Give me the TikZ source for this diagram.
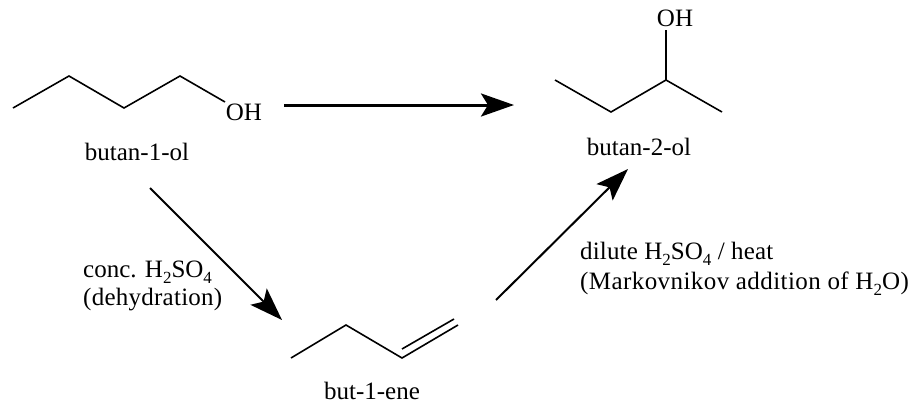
\documentclass[tikz,border=0pt]{standalone}
\usepackage{fontspec}
\setmainfont{Liberation Serif}
\usetikzlibrary{arrows.meta}
\newcommand{\lowsub}[1]{\raisebox{-6pt}{\fontsize{17}{20}\selectfont #1}}
\tikzset{
  x=1pt,y=-1pt,
  bond/.style={line width=1.6pt,line join=miter},
  rxn/.style={line width=2pt,-{Stealth[length=33pt,width=23pt,inset=7pt]}},
  rxnthick/.style={rxn,line width=3pt},
  lab/.style={inner sep=0pt,font=\fontsize{25}{30}\selectfont},
  cond/.style={inner sep=0pt,anchor=base west,font=\fontsize{25}{30}\selectfont}
}
\begin{document}
\begin{tikzpicture}
\useasboundingbox (0,0) rectangle (918,410);
% butan-1-ol
\coordinate (a1) at (13,108);
\coordinate (a2) at (69,76);
\coordinate (a3) at (124,108);
\coordinate (a4) at (180,76);
\coordinate (a5) at (225,102);
\draw[bond] (a1)--(a2)--(a3)--(a4)--(a5);
\node[lab] (oh1) at (244,112) {OH};
\node[lab] (t1) at (137,152) {butan-1-ol};
% butan-2-ol
\coordinate (b1) at (555,80);
\coordinate (b2) at (611,112);
\coordinate (b3) at (666,80);
\coordinate (b4) at (722,112);
\coordinate (b5) at (666,30);
\draw[bond] (b1)--(b2)--(b3)--(b4);
\draw[bond] (b3)--(b5);
\node[lab] (oh2) at (675,18) {OH};
\node[lab] (t2) at (639,147) {butan-2-ol};
% but-1-ene
\coordinate (c1) at (291,358);
\coordinate (c2) at (346,325);
\coordinate (c3) at (402,358);
\coordinate (c4) at (458,325);
\coordinate (c5) at (402,349);
\coordinate (c6) at (454,319);
\draw[bond] (c1)--(c2)--(c3)--(c4);
\draw[bond] (c5)--(c6);
\node[lab] (t3) at (372,391) {but-1-ene};
% arrows
\coordinate (r1s) at (284,105);
\coordinate (r1e) at (514,105);
\coordinate (r2s) at (150,188);
\coordinate (r2e) at (282,320);
\coordinate (r3s) at (496,300);
\coordinate (r3e) at (628,169);
\draw[rxnthick] (r1s)--(r1e);
\draw[rxn] (r2s)--(r2e);
\draw[rxn] (r3s)--(r3e);
% conditions
\node[cond] (k1) at (83,277) {conc. H\lowsub{2}SO\lowsub{4}};
\node[cond] (k2) at (83,305) {\addfontfeatures{LetterSpace=1}(dehydration)};
\node[cond] (k3) at (580,259) {\addfontfeatures{LetterSpace=0.6}dilute H\lowsub{2}SO\lowsub{4} / heat};
\node[cond] (k4) at (580,289) {\addfontfeatures{LetterSpace=1.7}(Markovnikov addition of H\lowsub{2}O)};
\end{tikzpicture}
\end{document}
